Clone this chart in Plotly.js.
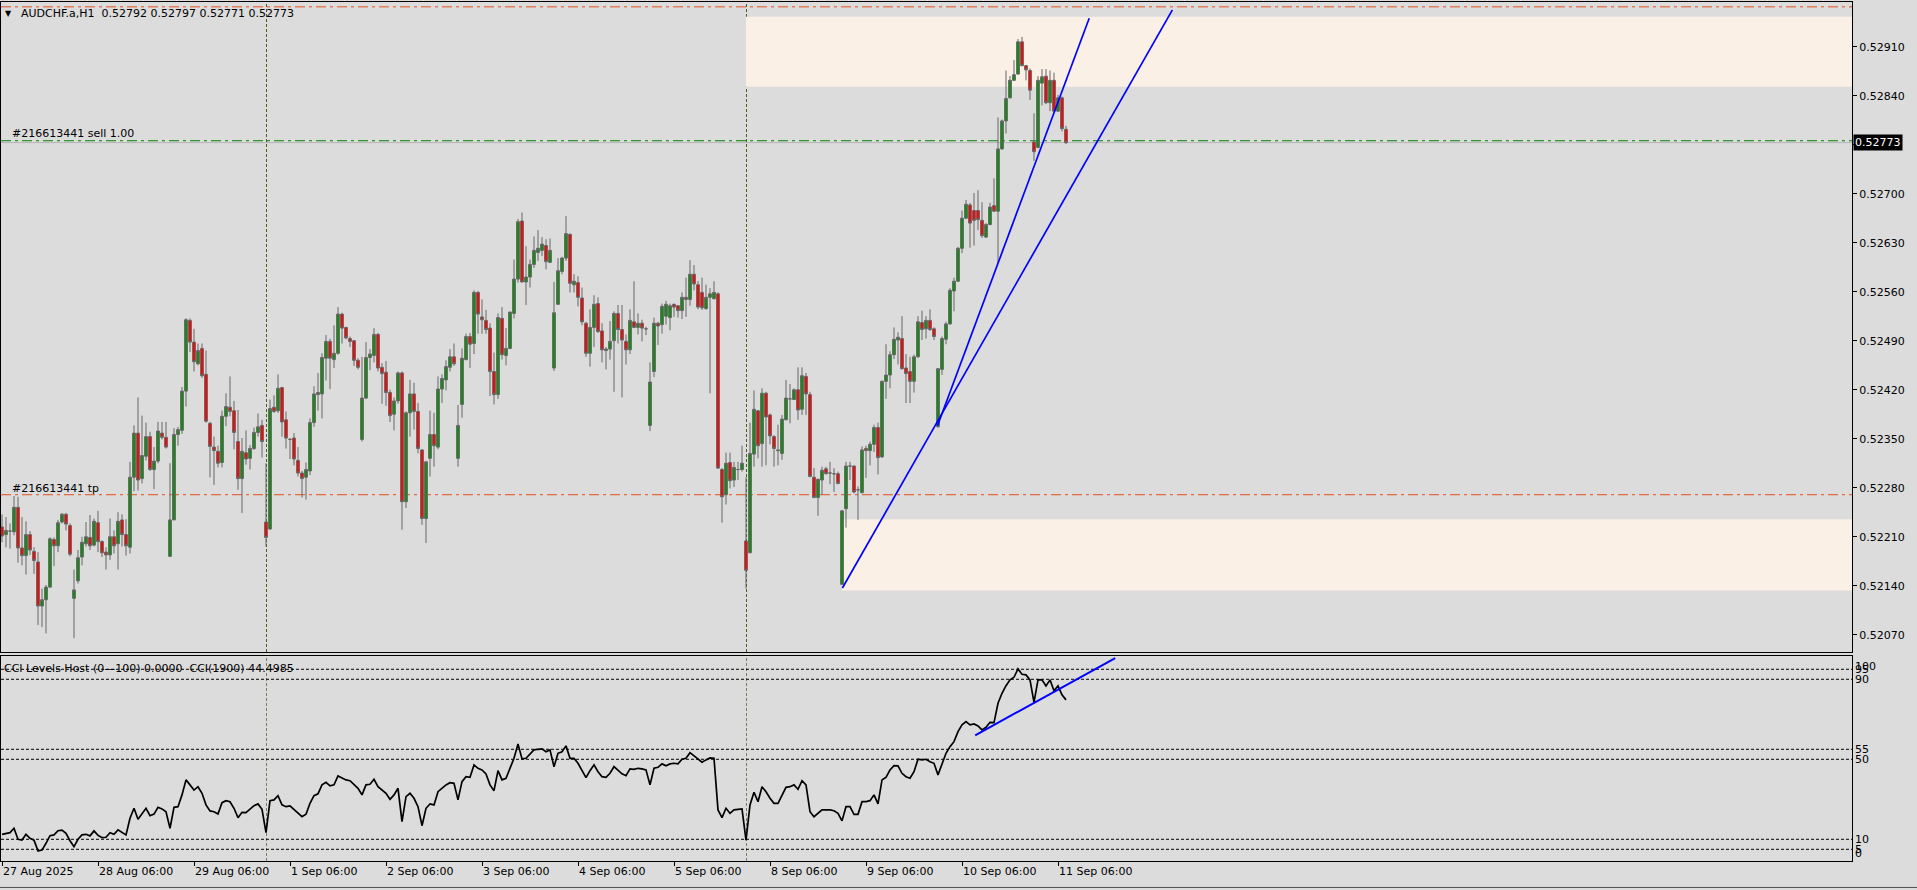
<!DOCTYPE html>
<html><head><meta charset="utf-8">
<script src="https://cdn.plot.ly/plotly-3.0.1.min.js"></script>
<style>html,body{margin:0;padding:0;background:#DCDCDC;overflow:hidden}#chart{width:1917px;height:890px}</style>
</head><body><div id="chart"></div>
<script>
// ---- data (H1 bars, index 0 = 27 Aug 2025 06:00) ----
const opens = [
0.52224,0.52213,0.52218,0.52217,0.52252,0.52194,0.52183,0.52213,0.52189,0.52174,
0.52111,0.52120,0.52138,0.52206,0.52197,0.52231,0.52242,0.52226,0.52122,0.52147,
0.52181,0.52200,0.52209,0.52198,0.52230,0.52203,0.52188,0.52184,0.52210,0.52200,
0.52234,0.52213,0.52195,0.52295,0.52358,0.52293,0.52325,0.52353,0.52306,0.52318,
0.52358,0.52352,0.52182,0.52234,0.52356,0.52362,0.52418,0.52519,0.52488,0.52457,
0.52479,0.52442,0.52372,0.52338,0.52332,0.52316,0.52382,0.52395,0.52390,0.52346,
0.52293,0.52330,0.52322,0.52336,0.52359,0.52369,0.52231,0.52221,0.52395,0.52390,
0.52423,0.52377,0.52349,0.52351,0.52319,0.52301,0.52295,0.52304,0.52373,0.52413,
0.52414,0.52465,0.52489,0.52463,0.52472,0.52528,0.52509,0.52493,0.52490,0.52462,
0.52349,0.52408,0.52466,0.52469,0.52499,0.52452,0.52445,0.52416,0.52385,0.52404,
0.52444,0.52260,0.52387,0.52414,0.52389,0.52334,0.52236,0.52322,0.52356,0.52338,
0.52421,0.52434,0.52452,0.52467,0.52322,0.52399,0.52463,0.52496,0.52486,0.52559,
0.52524,0.52519,0.52508,0.52446,0.52413,0.52522,0.52469,0.52479,0.52529,0.52578,
0.52661,0.52574,0.52581,0.52599,0.52616,0.52619,0.52626,0.52602,0.52451,0.52542,
0.52589,0.52608,0.52642,0.52570,0.52573,0.52551,0.52515,0.52472,0.52509,0.52543,
0.52504,0.52476,0.52478,0.52490,0.52529,0.52506,0.52489,0.52477,0.52517,0.52509,
0.52515,0.52507,0.52369,0.52446,0.52515,0.52513,0.52525,0.52523,0.52542,0.52540,
0.52533,0.52552,0.52549,0.52585,0.52570,0.52559,0.52536,0.52552,0.52550,0.52557,
0.52306,0.52270,0.52316,0.52291,0.52306,0.52306,0.52204,0.52187,0.52328,0.52390,
0.52343,0.52415,0.52384,0.52353,0.52334,0.52329,0.52377,0.52407,0.52406,0.52420,
0.52392,0.52439,0.52413,0.52295,0.52266,0.52291,0.52307,0.52301,0.52300,0.52300,
0.52142,0.52250,0.52311,0.52311,0.52277,0.52273,0.52336,0.52333,0.52342,0.52366,
0.52324,0.52432,0.52441,0.52470,0.52491,0.52493,0.52451,0.52446,0.52432,0.52467,
0.52516,0.52507,0.52519,0.52507,0.52367,0.52449,0.52492,0.52514,0.52561,0.52575,
0.52622,0.52665,0.52684,0.52676,0.52676,0.52662,0.52638,0.52656,0.52683,0.52675,
0.52764,0.52804,0.52837,0.52862,0.52871,0.52917,0.52883,0.52876,0.52774,0.52766,
0.52858,0.52868,0.52830,0.52862,0.52818,0.52837,0.52792];
const highs = [
0.52242,0.52238,0.52229,0.52268,0.52267,0.52238,0.52232,0.52218,0.52195,0.52188,
0.52136,0.52141,0.52209,0.52209,0.52234,0.52244,0.52244,0.52229,0.52163,0.52191,
0.52210,0.52231,0.52241,0.52236,0.52247,0.52205,0.52195,0.52236,0.52219,0.52245,
0.52242,0.52235,0.52317,0.52369,0.52409,0.52383,0.52373,0.52360,0.52338,0.52374,
0.52374,0.52374,0.52315,0.52365,0.52367,0.52424,0.52522,0.52522,0.52507,0.52486,
0.52486,0.52476,0.52374,0.52353,0.52340,0.52390,0.52415,0.52439,0.52404,0.52391,
0.52351,0.52362,0.52341,0.52366,0.52386,0.52377,0.52315,0.52406,0.52412,0.52442,
0.52424,0.52389,0.52351,0.52358,0.52338,0.52304,0.52316,0.52379,0.52425,0.52444,
0.52472,0.52498,0.52493,0.52512,0.52538,0.52530,0.52510,0.52496,0.52491,0.52465,
0.52467,0.52488,0.52478,0.52508,0.52501,0.52458,0.52461,0.52420,0.52409,0.52446,
0.52446,0.52389,0.52434,0.52430,0.52401,0.52335,0.52318,0.52390,0.52387,0.52439,
0.52442,0.52462,0.52478,0.52486,0.52398,0.52479,0.52500,0.52501,0.52562,0.52561,
0.52549,0.52534,0.52515,0.52473,0.52529,0.52538,0.52508,0.52531,0.52606,0.52664,
0.52673,0.52625,0.52606,0.52639,0.52648,0.52638,0.52635,0.52636,0.52574,0.52608,
0.52610,0.52668,0.52643,0.52585,0.52582,0.52566,0.52517,0.52535,0.52555,0.52552,
0.52515,0.52481,0.52518,0.52532,0.52541,0.52541,0.52499,0.52535,0.52575,0.52529,
0.52520,0.52510,0.52459,0.52523,0.52517,0.52543,0.52547,0.52543,0.52543,0.52541,
0.52559,0.52580,0.52605,0.52598,0.52575,0.52580,0.52570,0.52565,0.52575,0.52559,
0.52308,0.52330,0.52330,0.52317,0.52317,0.52340,0.52295,0.52373,0.52419,0.52391,
0.52422,0.52417,0.52386,0.52355,0.52370,0.52384,0.52434,0.52428,0.52422,0.52452,
0.52452,0.52444,0.52417,0.52308,0.52293,0.52310,0.52310,0.52317,0.52308,0.52303,
0.52248,0.52317,0.52317,0.52312,0.52282,0.52339,0.52340,0.52346,0.52370,0.52373,
0.52433,0.52485,0.52475,0.52509,0.52502,0.52525,0.52471,0.52467,0.52470,0.52525,
0.52533,0.52525,0.52535,0.52509,0.52451,0.52496,0.52517,0.52565,0.52580,0.52624,
0.52676,0.52691,0.52687,0.52701,0.52705,0.52688,0.52658,0.52687,0.52722,0.52809,
0.52806,0.52876,0.52868,0.52891,0.52921,0.52924,0.52884,0.52879,0.52815,0.52868,
0.52878,0.52878,0.52876,0.52873,0.52841,0.52839,0.52797];
const lows = [
0.52202,0.52195,0.52193,0.52212,0.52173,0.52169,0.52156,0.52184,0.52157,0.52084,
0.52081,0.52072,0.52137,0.52168,0.52188,0.52229,0.52219,0.52182,0.52065,0.52143,
0.52169,0.52196,0.52191,0.52196,0.52188,0.52181,0.52163,0.52177,0.52186,0.52163,
0.52196,0.52183,0.52186,0.52275,0.52276,0.52286,0.52319,0.52304,0.52278,0.52315,
0.52349,0.52336,0.52181,0.52234,0.52340,0.52357,0.52396,0.52474,0.52446,0.52455,
0.52437,0.52373,0.52295,0.52284,0.52309,0.52309,0.52368,0.52382,0.52335,0.52277,
0.52244,0.52313,0.52306,0.52334,0.52353,0.52323,0.52196,0.52220,0.52387,0.52387,
0.52353,0.52336,0.52321,0.52312,0.52296,0.52266,0.52263,0.52298,0.52367,0.52390,
0.52379,0.52433,0.52421,0.52451,0.52470,0.52486,0.52492,0.52481,0.52454,0.52449,
0.52346,0.52407,0.52448,0.52459,0.52446,0.52400,0.52397,0.52374,0.52362,0.52400,
0.52220,0.52251,0.52353,0.52363,0.52329,0.52227,0.52201,0.52296,0.52310,0.52335,
0.52401,0.52419,0.52446,0.52454,0.52310,0.52380,0.52462,0.52451,0.52471,0.52500,
0.52500,0.52500,0.52411,0.52399,0.52407,0.52463,0.52455,0.52478,0.52522,0.52573,
0.52573,0.52541,0.52566,0.52594,0.52604,0.52611,0.52592,0.52601,0.52447,0.52541,
0.52585,0.52604,0.52559,0.52559,0.52539,0.52512,0.52467,0.52453,0.52481,0.52501,
0.52459,0.52449,0.52463,0.52417,0.52486,0.52409,0.52456,0.52471,0.52508,0.52499,
0.52489,0.52498,0.52361,0.52438,0.52484,0.52500,0.52513,0.52505,0.52524,0.52523,
0.52521,0.52524,0.52540,0.52562,0.52535,0.52534,0.52534,0.52415,0.52549,0.52307,
0.52230,0.52256,0.52279,0.52281,0.52291,0.52303,0.52136,0.52187,0.52310,0.52322,
0.52310,0.52312,0.52342,0.52310,0.52312,0.52320,0.52377,0.52372,0.52406,0.52377,
0.52384,0.52384,0.52295,0.52265,0.52240,0.52270,0.52299,0.52285,0.52274,0.52285,
0.52141,0.52223,0.52291,0.52272,0.52234,0.52272,0.52294,0.52312,0.52331,0.52299,
0.52323,0.52407,0.52422,0.52464,0.52456,0.52449,0.52401,0.52401,0.52416,0.52466,
0.52491,0.52493,0.52504,0.52491,0.52366,0.52441,0.52485,0.52513,0.52532,0.52574,
0.52615,0.52664,0.52623,0.52626,0.52648,0.52637,0.52637,0.52655,0.52674,0.52601,
0.52763,0.52786,0.52836,0.52861,0.52870,0.52882,0.52862,0.52834,0.52747,0.52765,
0.52826,0.52828,0.52818,0.52816,0.52817,0.52789,0.52771];
const closes = [
0.52211,0.52219,0.52218,0.52252,0.52194,0.52183,0.52213,0.52191,0.52176,0.52111,
0.52120,0.52138,0.52207,0.52197,0.52230,0.52242,0.52228,0.52185,0.52134,0.52180,
0.52202,0.52210,0.52197,0.52232,0.52203,0.52187,0.52184,0.52210,0.52197,0.52232,
0.52213,0.52197,0.52295,0.52358,0.52291,0.52326,0.52353,0.52306,0.52318,0.52361,
0.52352,0.52338,0.52234,0.52356,0.52363,0.52418,0.52520,0.52488,0.52460,0.52476,
0.52440,0.52375,0.52339,0.52333,0.52315,0.52382,0.52396,0.52389,0.52359,0.52293,
0.52332,0.52321,0.52336,0.52359,0.52367,0.52346,0.52209,0.52393,0.52389,0.52422,
0.52374,0.52351,0.52349,0.52321,0.52301,0.52293,0.52306,0.52373,0.52414,0.52416,
0.52466,0.52489,0.52465,0.52472,0.52528,0.52508,0.52494,0.52489,0.52462,0.52452,
0.52408,0.52466,0.52471,0.52499,0.52451,0.52443,0.52416,0.52383,0.52404,0.52444,
0.52260,0.52387,0.52414,0.52389,0.52336,0.52236,0.52317,0.52356,0.52340,0.52421,
0.52436,0.52453,0.52467,0.52457,0.52369,0.52465,0.52496,0.52485,0.52559,0.52528,
0.52520,0.52506,0.52446,0.52413,0.52523,0.52470,0.52479,0.52531,0.52578,0.52660,
0.52574,0.52581,0.52599,0.52619,0.52622,0.52628,0.52603,0.52619,0.52530,0.52590,
0.52608,0.52643,0.52572,0.52575,0.52552,0.52517,0.52472,0.52509,0.52542,0.52503,
0.52477,0.52478,0.52489,0.52529,0.52506,0.52491,0.52477,0.52519,0.52509,0.52515,
0.52508,0.52507,0.52431,0.52515,0.52511,0.52539,0.52542,0.52540,0.52538,0.52533,
0.52552,0.52549,0.52585,0.52571,0.52538,0.52537,0.52552,0.52557,0.52559,0.52308,
0.52267,0.52315,0.52290,0.52309,0.52306,0.52315,0.52162,0.52329,0.52392,0.52340,
0.52415,0.52381,0.52354,0.52336,0.52333,0.52378,0.52408,0.52407,0.52420,0.52391,
0.52440,0.52414,0.52296,0.52266,0.52292,0.52305,0.52300,0.52301,0.52300,0.52286,
0.52247,0.52311,0.52311,0.52274,0.52277,0.52334,0.52333,0.52342,0.52366,0.52323,
0.52432,0.52441,0.52470,0.52492,0.52495,0.52450,0.52443,0.52432,0.52467,0.52517,
0.52506,0.52519,0.52506,0.52496,0.52450,0.52493,0.52514,0.52562,0.52575,0.52622,
0.52665,0.52685,0.52658,0.52662,0.52663,0.52640,0.52656,0.52681,0.52675,0.52764,
0.52804,0.52836,0.52862,0.52870,0.52917,0.52883,0.52877,0.52848,0.52760,0.52862,
0.52867,0.52830,0.52862,0.52818,0.52837,0.52793,0.52773];
const cciValues = [
12.5,13,13.3,15.5,10,9.6,12.5,10.5,9.6,4.2,
4.6,8,11.8,12.2,14.3,14.6,13,9.3,6.3,10,
12.2,12.5,11.7,14.2,12,10.8,11,13.3,12.5,14.7,
13.3,12.2,20.5,25.5,20,23,25.5,21.8,22.6,26,
25.2,23.8,15.5,26,26.3,32.2,39.7,37.2,34.6,36.3,
33,27.2,24.2,23.8,22.6,28.3,29.3,28.8,25.5,20.8,
23.5,23.3,25,26.8,27.7,25,13.3,29.3,29.7,31.8,
27.2,26.3,26.7,25,23,21.3,22.5,28,31.8,32.7,
37.2,38.5,36.7,37.2,41.7,40.5,39.7,39.3,37.2,35.5,
32.2,37.2,37.5,40,36.3,34.6,33,30,32.2,35.5,
18.8,31.3,33,30.5,26.3,16.8,25.5,27.7,27.2,33.8,
35.5,37.2,38.3,38,29.7,38.8,41.3,41,47.2,45.5,
44.7,42.7,37.2,34.3,44.3,39.7,40.5,45.5,50.5,57.7,
50.2,50.5,52.7,54.7,55,55.2,53.8,54.7,46.3,53,
53.8,56.7,50.5,50.5,48,44.3,40.8,44.3,47.2,43.8,
41.3,41,43,46.3,44.3,42.7,41.8,45.2,45,45.5,
45.2,44.7,37.2,45.5,46,47.7,46.7,47.7,48,47.7,
50,50.5,53.3,51.7,50,48.5,49.7,50.7,50.5,24.7,
20.8,25.5,23,24.7,25,25.2,9.6,27.2,33.5,28.8,
36.3,33.8,30.5,28,28,32.2,36,36.3,37.2,35,
39.3,37.2,23.8,21.3,23,24.7,24.7,24.7,24.3,23,
19.2,26.3,26.3,22.5,22.5,28.8,28.8,29.3,32.2,27.7,
39.7,41,44.7,46.8,46.7,43,41.3,40.5,43.8,50,
49.7,50,48.8,48,42.2,47.2,53,56.3,58.8,63.8,
67.2,68.8,67.2,67.7,66.7,64.7,66,68.5,68.3,78,
83,86.8,89.7,91,95.2,92.5,92.2,89.7,78.5,89.7,
89.7,86.7,89.7,84.3,86.7,82.2,79.7];

const tickIndex  = [0,24,48,72,96,120,144,168,192,216,240,264];
const tickLabels = ["27 Aug 2025","28 Aug 06:00","29 Aug 06:00","1 Sep 06:00","2 Sep 06:00","3 Sep 06:00",
                    "4 Sep 06:00","5 Sep 06:00","8 Sep 06:00","9 Sep 06:00","10 Sep 06:00","11 Sep 06:00"];
const priceTicks = [0.52070,0.52140,0.52210,0.52280,0.52350,0.52420,0.52490,0.52560,0.52630,0.52700,0.52770,0.52840,0.52910];
const cciLevels  = [100,95,90,55,50,10,5,0];
const weekSeparators = [66,186];
const zoneStart  = [186,210];
const zoneTop    = [0.52953,0.52235];
const zoneBottom = [0.52853,0.52133];
const trendX0 = [210.1,233.9], trendY0 = [0.521367,0.523689];
const trendX1 = [292.6,271.8], trendY1 = [0.529627,0.529506];
const cciTrendX = [243.3,278.3], cciTrendY = [62,100.6];
const slPrice = 0.52967, entryPrice = 0.527757, bidPrice = 0.52773, tpPrice = 0.52270;
const header = "AUDCHF.a,H1\u00a0 0.52792 0.52797 0.52771 0.52773";
const cciTitle = "CCI Levels Host (0\u2014100) 0.0000\u00a0 CCI(1900) 44.4985";
const orderLabel = "#216613441 sell 1.00", tpLabel = "#216613441 tp";

// ---- build ----
const idx = opens.map((_, i) => i);
const FONT = {family: "DejaVu Sans, Verdana, sans-serif", size: 11, color: "#000"};
const XR = [-0.25, 462.5];
const HALF_PX = 0.125; // half a screen pixel in bar units, keeps 1px vertical lines crisp

const traces = [
  {type: "candlestick", x: idx, open: opens, high: highs, low: lows, close: closes,
   xaxis: "x", yaxis: "y", whiskerwidth: 0, hoverinfo: "skip",
   increasing: {line: {color: "#666666", width: 1}, fillcolor: "#0f8f0f"},
   decreasing: {line: {color: "#666666", width: 1}, fillcolor: "#ff0000"}},
  {type: "scatter", mode: "lines", x: idx, y: cciValues, xaxis: "x2", yaxis: "y2",
   line: {color: "#000", width: 1.7}, hoverinfo: "skip"}
];

const shapes = [];
zoneStart.forEach((s, k) => shapes.push({type: "rect", xref: "x", yref: "y", x0: s, x1: 2000,
  y0: zoneBottom[k], y1: zoneTop[k], fillcolor: "#FAF0E6", line: {width: 0}, layer: "below"}));
weekSeparators.forEach(v => {
  shapes.push({type: "line", xref: "x", yref: "y domain", x0: v + HALF_PX, x1: v + HALF_PX, y0: 0, y1: 1,
    line: {color: "#4B5E1E", width: 1, dash: "3px,2px"}, layer: "below"});
  shapes.push({type: "line", xref: "x2", yref: "y2 domain", x0: v + HALF_PX, x1: v + HALF_PX, y0: 0, y1: 1,
    line: {color: "#7d7d5a", width: 1, dash: "3px,2px"}, layer: "below"});
});
const hline = (y, color, dash) => ({type: "line", xref: "x domain", yref: "y", x0: 0, x1: 1, y0: y, y1: y,
  line: {color: color, width: 1, dash: dash}, layer: "below"});
shapes.push(hline(bidPrice, "#b4b4b4", "solid"));
shapes.push(hline(slPrice, "#E4501E", "10px,4px,3px,4px"));
shapes.push(hline(entryPrice, "#008000", "10px,4px,3px,4px"));
shapes.push(hline(tpPrice, "#E4501E", "10px,4px,3px,4px"));
cciLevels.filter(l => l > 0 && l < 100).forEach(l => shapes.push({type: "line", xref: "x2 domain", yref: "y2",
  x0: 0, x1: 1, y0: l, y1: l, line: {color: "#000", width: 1, dash: "3px,2px"}, layer: "below"}));
trendX0.forEach((x0, k) => shapes.push({type: "line", xref: "x", yref: "y", x0: x0, y0: trendY0[k],
  x1: trendX1[k], y1: trendY1[k], line: {color: "#0000FF", width: 1.7}}));
shapes.push({type: "line", xref: "x2", yref: "y2", x0: cciTrendX[0], y0: cciTrendY[0], x1: cciTrendX[1], y1: cciTrendY[1],
  line: {color: "#0000FF", width: 2}});
shapes.push({type: "line", xref: "paper", yref: "paper", x0: -0.01, x1: 1.05, y0: -0.0308, y1: -0.0308,
  line: {color: "#505050", width: 1}});

const annotations = [
  {xref: "paper", yref: "paper", x: 0, y: 1, xanchor: "left", yanchor: "middle", xshift: 2, yshift: -11,
   text: "\u25BC", showarrow: false, font: {family: FONT.family, size: 8, color: "#000"}},
  {xref: "paper", yref: "paper", x: 0, y: 1, xanchor: "left", yanchor: "middle", xshift: 18, yshift: -11.3,
   text: header, showarrow: false, font: FONT},
  {xref: "paper", yref: "y", x: 0, y: entryPrice, xanchor: "left", yanchor: "middle", xshift: 9, yshift: 7.4,
   text: orderLabel, showarrow: false, font: FONT},
  {xref: "paper", yref: "y", x: 0, y: tpPrice, xanchor: "left", yanchor: "middle", xshift: 9, yshift: 6,
   text: tpLabel, showarrow: false, font: FONT},
  {xref: "paper", yref: "y2 domain", x: 0, y: 1, xanchor: "left", yanchor: "middle", xshift: 1, yshift: -12.5,
   text: cciTitle, showarrow: false, font: FONT},
  {xref: "paper", yref: "y", x: 1, y: bidPrice, xanchor: "left", yanchor: "middle", xshift: 1,
   text: bidPrice.toFixed(5), showarrow: false, bgcolor: "#000", borderpad: 1,
   font: {family: FONT.family, size: 11, color: "#fff"}}
];
cciLevels.forEach(l => annotations.push({xref: "paper", yref: "y2", x: 1, y: l, xanchor: "left", yanchor: "middle",
  xshift: 1, yshift: l >= 100 ? -7 : (l <= 0 ? 6 : 0), text: String(l), showarrow: false, font: FONT}));

// the live-price box hides the grid label that sits under it
const priceTickText = priceTicks.map(v => Math.abs(v - bidPrice) < 0.0001 ? "" : v.toFixed(5));

const layout = {
  width: 1917, height: 890, margin: {l: 1, r: 65, t: 2, b: 29, pad: 0},
  paper_bgcolor: "#DCDCDC", plot_bgcolor: "#DCDCDC", showlegend: false, hovermode: false,
  font: FONT, boxgap: 0.3, boxgroupgap: 0,
  xaxis: {domain: [0, 1], range: XR, anchor: "y", showticklabels: false, ticks: "", showgrid: false,
    zeroline: false, showline: true, mirror: true, linecolor: "#000", linewidth: 1,
    rangeslider: {visible: false}, fixedrange: true},
  yaxis: {domain: [0.2433, 1], range: [0.520453, 0.529739], anchor: "x", side: "right",
    tickvals: priceTicks, ticktext: priceTickText, ticks: "outside", ticklen: 4,
    tickcolor: "#000", showgrid: false, zeroline: false, showline: true, mirror: true,
    linecolor: "#000", linewidth: 1, tickfont: FONT, fixedrange: true},
  xaxis2: {domain: [0, 1], range: XR, anchor: "y2", tickvals: tickIndex, ticktext: tickLabels,
    ticks: "outside", ticklen: 4, tickcolor: "#000", ticklabelposition: "outside right",
    showgrid: false, zeroline: false, showline: true, mirror: true, linecolor: "#000", linewidth: 1,
    tickfont: FONT, fixedrange: true},
  yaxis2: {domain: [0, 0.2381], range: [-0.85, 101.4], anchor: "x2", side: "right",
    showticklabels: false, ticks: "", showgrid: false, zeroline: false, showline: true, mirror: true,
    linecolor: "#000", linewidth: 1, fixedrange: true},
  shapes: shapes, annotations: annotations
};

Plotly.newPlot("chart", traces, layout, {staticPlot: true, displayModeBar: false});
</script>
</body></html>
